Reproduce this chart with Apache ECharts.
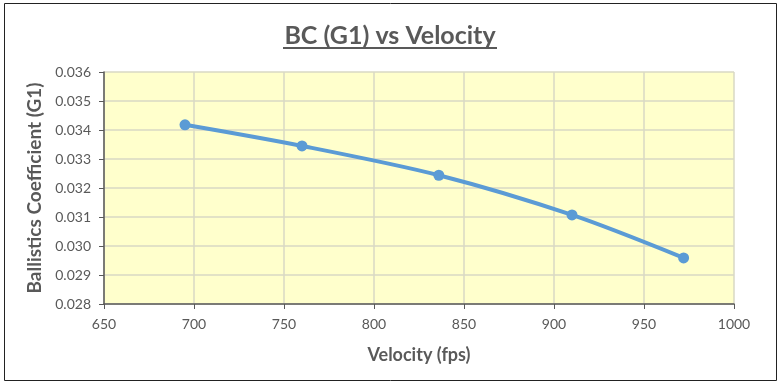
<!DOCTYPE html>
<html><head><meta charset="utf-8">
<script src="https://cdn.jsdelivr.net/npm/echarts@6/dist/echarts.min.js"></script>
<style>html,body{margin:0;padding:0;background:#fff}#c{width:780px;height:387px}</style>
</head><body><div id="c"></div>
<script>
var velocity = [695, 760, 836, 910, 972];
var bc = [0.03418, 0.03345, 0.03244, 0.03107, 0.02959];
var xTicks = [650, 700, 750, 800, 850, 900, 950, 1000];
var yTicks = [0.028, 0.029, 0.030, 0.031, 0.032, 0.033, 0.034, 0.035, 0.036];
var titleText = 'BC (G1) vs Velocity';
var xName = 'Velocity (fps)';
var yName = 'Ballistics Coefficient (G1)';

var chart = echarts.init(document.getElementById('c'));
var font = 'Lato, "Open Sans", sans-serif';
chart.setOption({
  backgroundColor: '#fff',
  animation: false,
  title: {
    text: titleText, left: 'center', top: 18,
    textStyle: {fontFamily: font, fontSize: 25, fontWeight: 'bold', color: '#595959'}
  },
  graphic: [
    {type: 'rect', shape: {x: 4.5, y: 3.5, width: 772, height: 377}, style: {fill: 'none', stroke: '#222', lineWidth: 1}, silent: true},
    {type: 'line', shape: {x1: 283, y1: 48, x2: 497, y2: 48}, style: {stroke: '#595959', lineWidth: 2}, silent: true}
  ],
  grid: {left: 104, right: 46, top: 72, bottom: 83, backgroundColor: '#FFFFCC', show: true, borderWidth: 0},
  xAxis: {
    type: 'value', min: xTicks[0], max: xTicks[xTicks.length - 1], interval: 50,
    name: xName, nameLocation: 'middle', nameGap: 42,
    nameTextStyle: {fontFamily: font, fontSize: 18, fontWeight: 'bold', color: '#595959'},
    axisLine: {show: true, lineStyle: {color: '#595959', width: 1.5}},
    axisTick: {show: true, length: 5, lineStyle: {color: '#595959'}},
    axisLabel: {fontFamily: font, fontSize: 14, color: '#595959', margin: 13,
      formatter: function (v) { return String(v); }},
    splitLine: {show: true, lineStyle: {color: '#D9D8C4', width: 1.5}}
  },
  yAxis: {
    type: 'value', min: yTicks[0], max: yTicks[yTicks.length - 1], interval: 0.001,
    name: yName, nameLocation: 'middle', nameGap: 58, nameRotate: 90,
    nameTextStyle: {fontFamily: font, fontSize: 19, fontWeight: 'bold', color: '#595959'},
    axisLine: {show: true, lineStyle: {color: '#595959', width: 1.5}},
    axisTick: {show: true, length: 5, lineStyle: {color: '#595959'}},
    axisLabel: {fontFamily: font, fontSize: 14, color: '#595959', margin: 13,
      formatter: function (v) { return v.toFixed(3); }},
    splitLine: {show: true, lineStyle: {color: '#D9D8C4', width: 1.5}}
  },
  series: [{
    type: 'line',
    data: velocity.map(function (v, i) { return [v, bc[i]]; }),
    smooth: 0.3,
    symbol: 'circle', symbolSize: 11,
    lineStyle: {color: '#5B9BD5', width: 4},
    itemStyle: {color: '#5B9BD5'}
  }]
});
</script></body></html>
